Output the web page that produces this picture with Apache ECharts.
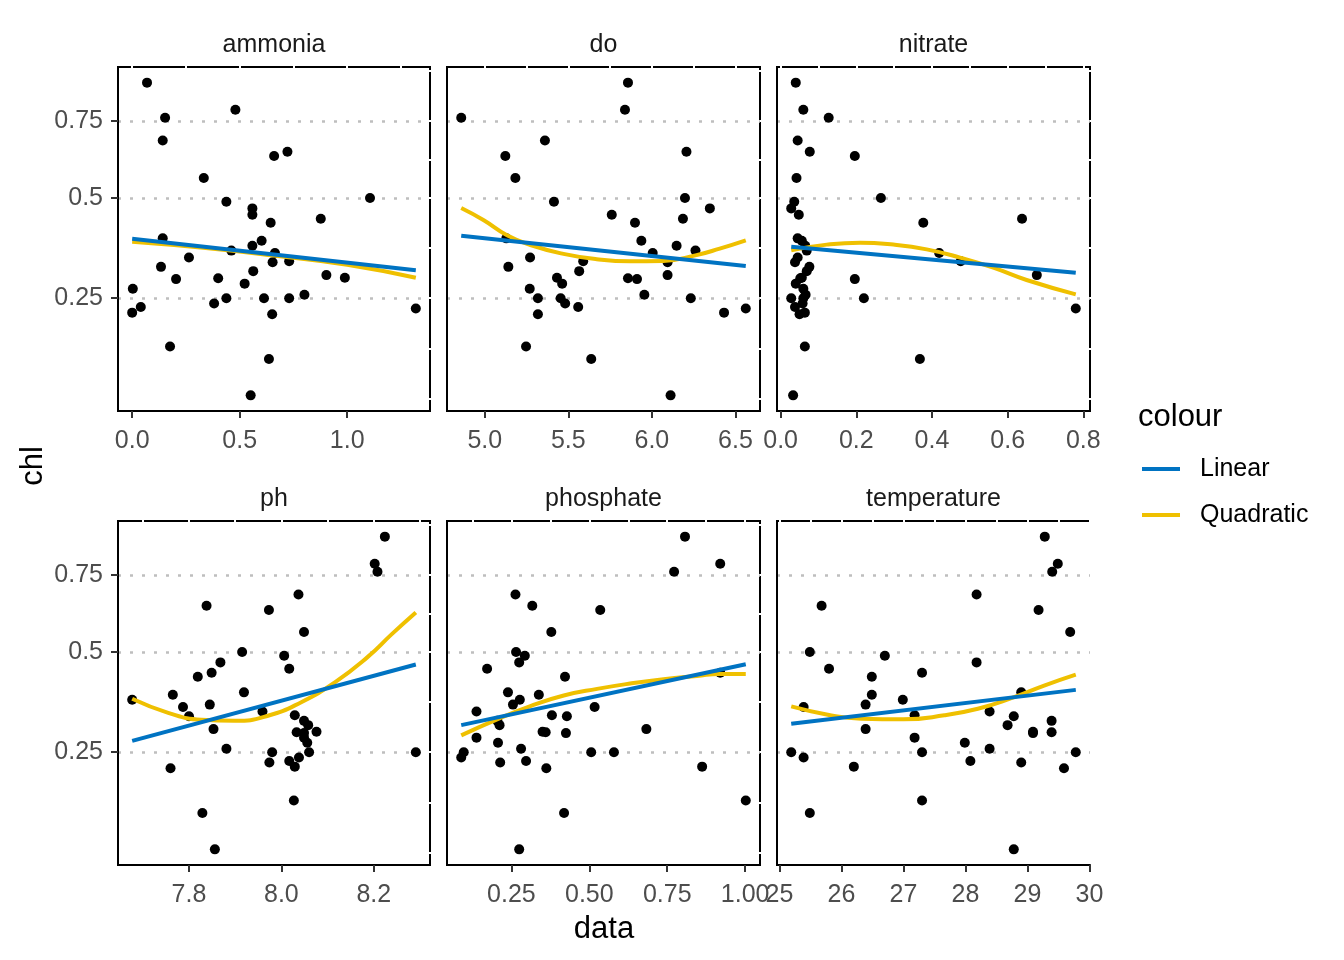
<!DOCTYPE html>
<html><head><meta charset="utf-8">
<script src="https://cdn.jsdelivr.net/npm/echarts@6/dist/echarts.min.js"></script>
<style>html,body{margin:0;padding:0;background:#fff}#c{width:1344px;height:960px}</style>
</head><body><div id="c"></div>
<script>
// ---- data (chl shared across panels, one x array per variable) ----
const chl = [0.894,0.791,0.762,0.682,0.644,0.630,0.560,0.500,0.489,0.470,0.452,0.441,0.430,0.389,0.383,0.370,0.358,0.352,0.341,0.332,0.330,0.319,0.309,0.300,0.294,0.293,0.291,0.281,0.270,0.257,0.250,0.250,0.250,0.239,0.232,0.229,0.221,0.218,0.160,0.140,0.0895];
const ammonia = [0.069,0.480,0.153,0.142,0.722,0.660,0.333,1.106,0.438,0.559,0.559,0.877,0.644,0.142,0.602,0.559,0.461,0.664,0.264,0.730,0.653,0.134,0.563,0.903,0.989,0.400,0.204,0.523,0.003,0.801,0.438,0.613,0.730,0.381,0.040,1.319,0.000,0.651,0.176,0.636,0.551];
const dox = [5.857,5.839,4.859,5.360,6.207,5.123,5.183,6.198,5.414,6.347,5.760,6.186,5.899,5.129,5.937,6.148,6.261,6.005,5.271,5.589,6.094,5.141,5.565,6.094,5.432,5.857,5.911,5.463,5.269,5.955,5.318,5.454,6.233,5.481,5.559,6.562,6.432,5.318,5.247,5.637,6.112];
const nitrate = [0.040,0.060,0.127,0.045,0.077,0.196,0.042,0.265,0.036,0.028,0.048,0.638,0.377,0.045,0.056,0.065,0.069,0.419,0.045,0.476,0.038,0.076,0.069,0.677,0.056,0.052,0.196,0.040,0.060,0.066,0.028,0.220,0.060,0.058,0.038,0.780,0.064,0.050,0.064,0.368,0.033];
const ph = [8.224,8.202,8.208,8.037,7.838,7.973,8.049,7.915,8.006,7.868,8.017,7.849,7.819,7.919,7.765,7.677,7.845,7.787,7.959,8.029,7.800,8.049,8.058,7.853,8.076,8.033,8.049,8.049,8.056,7.881,7.980,8.291,8.060,8.038,8.017,7.974,8.029,7.760,8.027,7.829,7.856];
const phosphate = [0.807,0.920,0.772,0.263,0.317,0.535,0.378,0.265,0.293,0.275,0.172,0.920,0.422,0.239,0.338,0.277,0.255,0.517,0.138,0.380,0.428,0.205,0.212,0.683,0.350,0.360,0.425,0.138,0.207,0.281,0.097,0.579,0.506,0.089,0.297,0.214,0.862,0.362,1.002,0.419,0.275];
const temperature = [29.28,29.49,29.40,28.18,25.68,29.18,29.69,25.49,26.70,28.18,25.80,27.30,26.49,28.90,26.49,26.99,26.39,25.39,28.39,27.18,28.78,29.39,28.68,26.39,29.09,29.39,29.09,27.18,27.99,28.39,25.19,27.30,29.78,25.39,28.08,28.90,26.20,29.59,27.30,25.49,28.78];

// fitted curves: [x, chl]
const ammoniaLinear = [[0,0.388],[1.319,0.311]];
const ammoniaQuad = [[0,0.380],[0.33,0.365],[0.66,0.346],[1.0,0.324],[1.319,0.294]];
const doLinear = [[4.859,0.396],[6.562,0.321]];
const doQuad = [[4.859,0.471],[4.994,0.437],[5.133,0.397],[5.273,0.372],[5.471,0.350],[5.670,0.337],[5.869,0.332],[6.068,0.333],[6.267,0.347],[6.406,0.363],[6.562,0.384]];
const nitrateLinear = [[0.028,0.3675],[0.780,0.3056]];
const nitrateQuad = [[0.028,0.359],[0.122,0.373],[0.210,0.378],[0.298,0.373],[0.386,0.361],[0.474,0.341],[0.562,0.317],[0.650,0.289],[0.780,0.258]];
const phLinear = [[7.677,0.274],[8.291,0.464]];
const phQuad = [[7.677,0.3725],[7.755,0.338],[7.827,0.3215],[7.899,0.319],[7.971,0.331],[8.043,0.364],[8.115,0.4147],[8.187,0.4858],[8.239,0.5535],[8.291,0.622]];
const phosphateLinear = [[0.089,0.309],[1.002,0.465]];
const phosphateQuad = [[0.089,0.286],[0.204,0.3225],[0.311,0.3544],[0.418,0.3809],[0.525,0.398],[0.631,0.412],[0.738,0.4236],[0.845,0.4324],[0.920,0.438],[1.002,0.438]];
const temperatureLinear = [[25.19,0.3124],[29.78,0.3954]];
const temperatureQuad = [[25.19,0.3535],[25.78,0.3335],[26.32,0.324],[27.00,0.3226],[27.66,0.332],[28.20,0.3478],[28.74,0.3742],[29.27,0.4068],[29.78,0.4361]];

// tick labels
const chlTicks = [0.25, 0.5, 0.75];
const ammoniaTicks = [0, 0.5, 1.0];
const doTicks = [5.0, 5.5, 6.0, 6.5];
const nitrateTicks = [0, 0.2, 0.4, 0.6, 0.8];
const phTicks = [7.8, 8.0, 8.2];
const phosphateTicks = [0.25, 0.5, 0.75, 1.0];
const temperatureTicks = [25, 26, 27, 28, 29, 30];
const panelNames = ['ammonia','do','nitrate','ph','phosphate','temperature'];
const seriesNames = ['Linear','Quadratic'];

// ---- build ----
const FONT = "'Liberation Sans', Arial, sans-serif";
const BLUE = '#0073C2', YELLOW = '#EFC000';
const panels = [
  {x: ammonia, ticks: ammoniaTicks, dec: 1, lin: ammoniaLinear, quad: ammoniaQuad},
  {x: dox, ticks: doTicks, dec: 1, lin: doLinear, quad: doQuad},
  {x: nitrate, ticks: nitrateTicks, dec: 1, lin: nitrateLinear, quad: nitrateQuad},
  {x: ph, ticks: phTicks, dec: 1, lin: phLinear, quad: phQuad},
  {x: phosphate, ticks: phosphateTicks, dec: 2, lin: phosphateLinear, quad: phosphateQuad},
  {x: temperature, ticks: temperatureTicks, dec: 0, lin: temperatureLinear, quad: temperatureQuad}
];
const colLeft = [118, 447, 777], colW = [312, 313, 313];
const rowTop = [67, 521], rowH = 344;

const sq = v => Math.sqrt(v);
const sMin = sq(Math.min(...chl)), sMax = sq(Math.max(...chl));
const yMin = sMin - 0.05 * (sMax - sMin), yMax = sMax + 0.05 * (sMax - sMin);
const yMajor = chlTicks.map(sq);
// ggplot-like minor breaks in transformed space
function breaksWithMinor(maj, lo, hi) {
  const bd = maj[1] - maj[0];
  const b = [maj[0] - bd, ...maj, maj[maj.length - 1] + bd];
  const out = [];
  for (let i = 0; i < b.length; i++) {
    out.push(b[i]);
    if (i < b.length - 1) out.push((b[i] + b[i + 1]) / 2);
  }
  return out.filter(v => v >= lo && v <= hi);
}
const yGaps = breaksWithMinor(yMajor, yMin, yMax);

const grid = [], xAxis = [], yAxis = [], series = [], graphic = [];
panels.forEach((p, i) => {
  const r = Math.floor(i / 3), c = i % 3;
  grid.push({left: colLeft[c], top: rowTop[r], width: colW[c], height: rowH,
    show: true, borderColor: '#000', borderWidth: 2, backgroundColor: 'transparent',
    containLabel: false, outerBoundsMode: 'none'});
  const lo = Math.min(...p.x), hi = Math.max(...p.x);
  const xMin = lo - 0.05 * (hi - lo), xMax = hi + 0.05 * (hi - lo);
  const xGaps = breaksWithMinor(p.ticks, xMin, xMax);
  xAxis.push({gridIndex: i, type: 'value', min: xMin, max: xMax, position: 'bottom', z: 2,
    axisLine: {show: true, onZero: false, lineStyle: {color: '#000', width: 2}},
    axisTick: {show: true, customValues: p.ticks, length: 7, lineStyle: {color: '#333', width: 2}},
    axisLabel: {show: true, customValues: p.ticks, margin: 18, color: '#4D4D4D', fontSize: 25, fontFamily: FONT,
      formatter: v => Number(v).toFixed(p.dec)},
    splitLine: {show: false}});
  xAxis.push({gridIndex: i, type: 'value', min: xMin, max: xMax, position: 'top', z: 1,
    axisLine: {show: false}, axisTick: {show: false, customValues: xGaps}, axisLabel: {show: false},
    splitLine: {show: true, lineStyle: {color: '#fff', width: 2, cap: 'square'}}});
  yAxis.push({gridIndex: i, type: 'value', min: yMin, max: yMax, position: 'left', z: 2,
    axisLine: {show: true, onZero: false, lineStyle: {color: '#000', width: 2}},
    axisTick: {show: c === 0, customValues: yMajor, length: 7, lineStyle: {color: '#333', width: 2}},
    axisLabel: {show: c === 0, customValues: yMajor, margin: 15, color: '#4D4D4D', fontSize: 25, fontFamily: FONT,
      formatter: v => String(+(v * v).toFixed(2))},
    splitLine: {show: true, lineStyle: {color: '#BEBEBE', width: 2.5, type: [3, 9]}}});
  yAxis.push({gridIndex: i, type: 'value', min: yMin, max: yMax, position: 'right', z: 1,
    axisLine: {show: false}, axisTick: {show: false, customValues: yGaps}, axisLabel: {show: false},
    splitLine: {show: true, lineStyle: {color: '#fff', width: 2, cap: 'square'}}});
  series.push({type: 'scatter', xAxisIndex: 2 * i, yAxisIndex: 2 * i, z: 3, silent: true,
    symbolSize: 10, itemStyle: {color: '#000', opacity: 1},
    data: p.x.map((v, j) => [v, sq(chl[j])])});
  series.push({name: seriesNames[1], type: 'line', xAxisIndex: 2 * i, yAxisIndex: 2 * i, z: 4, silent: true,
    smooth: true, showSymbol: false, symbol: 'none',
    lineStyle: {color: YELLOW, width: 4, opacity: 1}, itemStyle: {color: YELLOW},
    data: p.quad.map(d => [d[0], sq(d[1])])});
  series.push({name: seriesNames[0], type: 'line', xAxisIndex: 2 * i, yAxisIndex: 2 * i, z: 5, silent: true,
    showSymbol: false, symbol: 'none',
    lineStyle: {color: BLUE, width: 4, opacity: 1}, itemStyle: {color: BLUE},
    data: p.lin.map(d => [d[0], sq(d[1])])});
  graphic.push({type: 'text', x: colLeft[c] + colW[c] / 2, y: rowTop[r] - 22,
    style: {text: panelNames[i], fill: '#1A1A1A', fontSize: 25, fontFamily: FONT, align: 'center', verticalAlign: 'middle'}});
});
graphic.push({type: 'text', x: 33, y: 466, rotation: Math.PI / 2,
  style: {text: 'chl', fill: '#000', fontSize: 31, fontFamily: FONT, align: 'center', verticalAlign: 'middle'}});
graphic.push({type: 'text', x: 604, y: 929,
  style: {text: 'data', fill: '#000', fontSize: 31, fontFamily: FONT, align: 'center', verticalAlign: 'middle'}});
graphic.push({type: 'text', x: 1138, y: 417,
  style: {text: 'colour', fill: '#000', fontSize: 31, fontFamily: FONT, align: 'left', verticalAlign: 'middle'}});

const chart = echarts.init(document.getElementById('c'), null, {renderer: 'canvas'});
chart.setOption({
  animation: false,
  backgroundColor: '#fff',
  grid, xAxis, yAxis, series, graphic,
  legend: {data: seriesNames, orient: 'vertical', left: 1142, top: 454, padding: 0, icon: 'rect',
    itemWidth: 38, itemHeight: 4, itemGap: 16, selectedMode: false,
    textStyle: {fontSize: 25, color: '#000', fontFamily: FONT, lineHeight: 30, padding: [0, 0, 0, 15]}}
});
</script></body></html>
